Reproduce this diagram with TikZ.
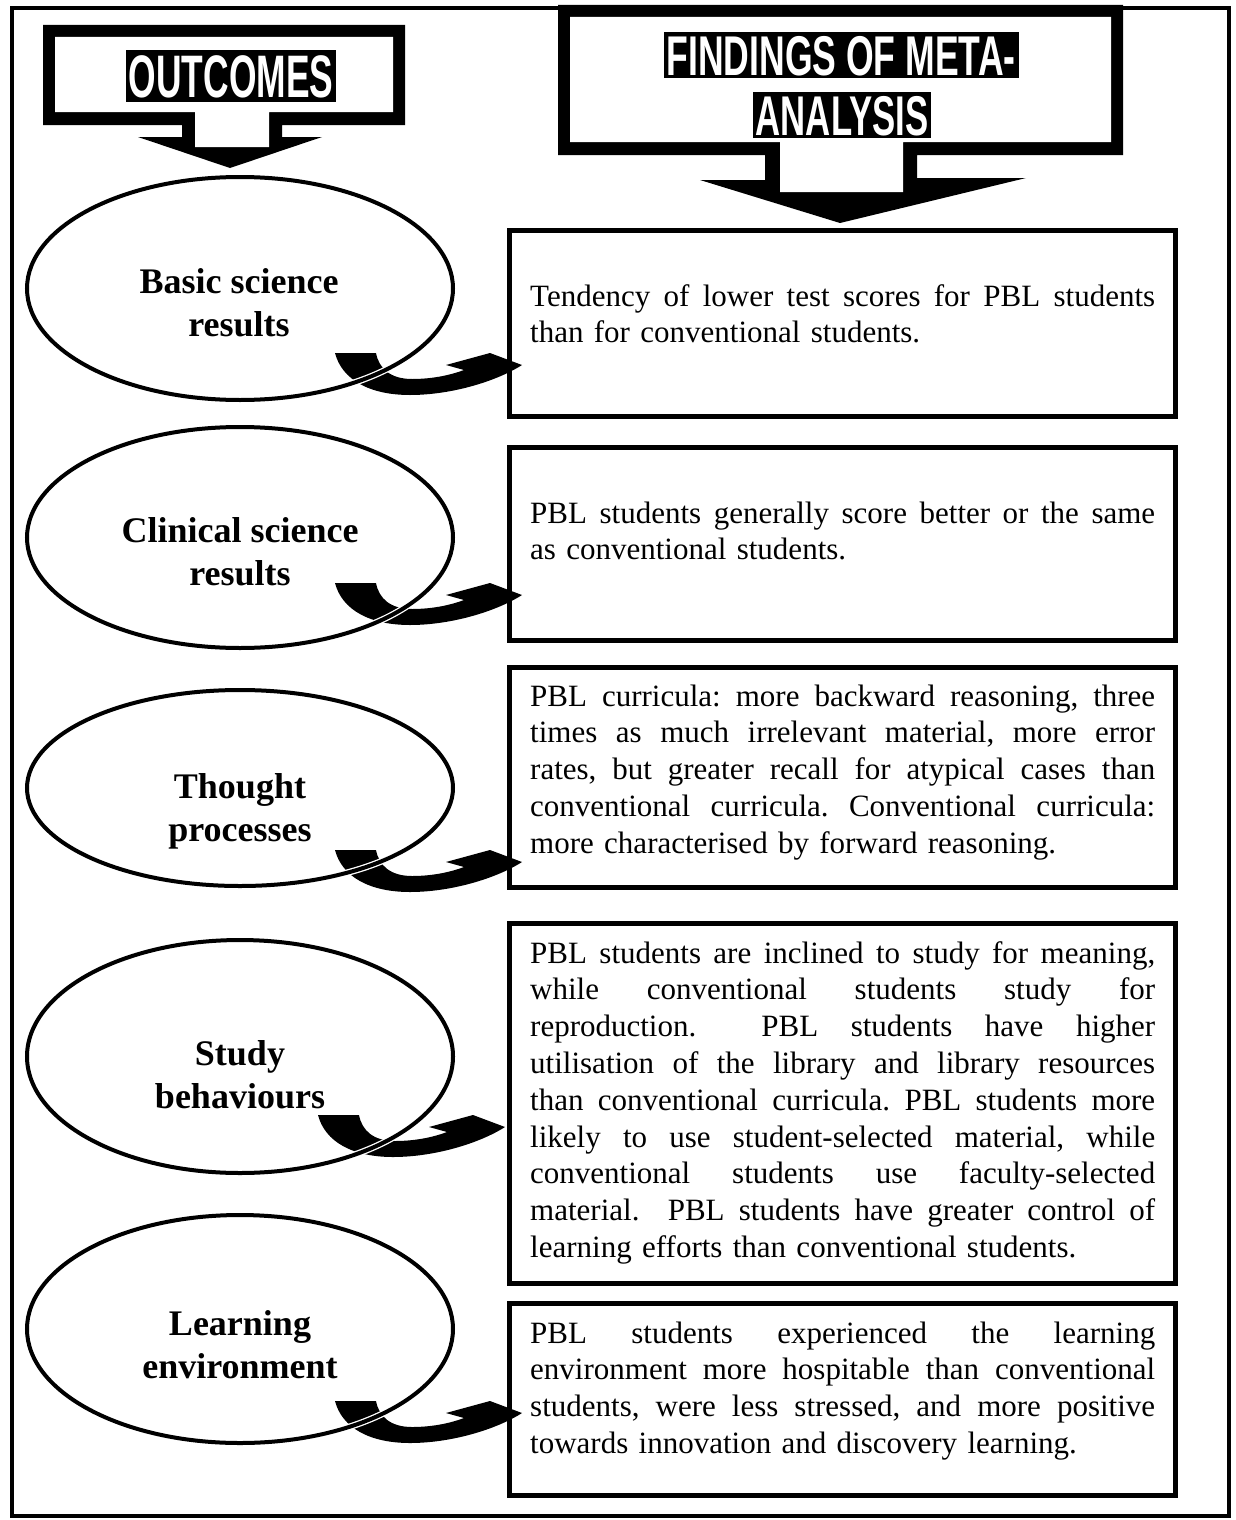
\documentclass[tikz,border=0pt]{standalone}
\usepackage{fontspec}
\usepackage{graphicx}
\setmainfont{Liberation Serif}
\newfontfamily\headfont{Liberation Sans}
\usetikzlibrary{shapes.geometric,calc}
\frenchspacing

% a fully justified line of the findings text: every gap stretches alike
\newcommand{\jl}[1]{\leavevmode\hbox to 625pt{\spaceskip=0.25em plus 1fil\xspaceskip=0.25em plus 1fil\relax #1}}
% condensed heavy lettering for the banners
\newcommand{\cond}[2][0.59]{\scalebox{#1}[1]{#2}}

\tikzset{
  outcome/.style={ellipse, draw=white, double=black, double distance=4pt, line width=1.3pt,
    inner sep=0pt, minimum width=426pt},
  outlabel/.style={font=\fontsize{36}{43}\selectfont\bfseries, align=center, inner sep=0pt, anchor=base},
  findbox/.style={rectangle, draw=black, line width=5pt, inner sep=0pt, minimum width=666pt},
  findtext/.style={font=\fontsize{31}{36.8}\selectfont, text width=625pt, align=left, inner sep=0pt, anchor=base west},
  banner/.style={fill=black, text=white, inner xsep=3pt, inner ysep=4.5pt,
    font=\headfont\fontsize{60}{60}\selectfont\bfseries, text height=43pt, text depth=0pt},
  smallbanner/.style={banner, inner ysep=3pt,
    font=\headfont\fontsize{56}{56}\selectfont\bfseries, text height=40pt},
  swoosh/.pic={
    \fill[black] (-187,-12) -- (-146,-12)
      .. controls (-143,4) and (-131,14) .. (-110,14)
      .. controls (-92,14) and (-74,11) .. (-58,5)
      -- (-76,0) -- (-32,-12) -- (0,0)
      .. controls (-25,16) and (-70,30) .. (-112,30)
      .. controls (-152,30) and (-180,15) .. (-187,-12) -- cycle;
  }
}

\begin{document}
\begin{tikzpicture}[x=1pt,y=-1pt]
\useasboundingbox (0,0) rectangle (1235,1520);
\fill[white] (0,0) rectangle (1235,1520);

% outer frame
\draw[line width=4pt] (12,8) rectangle (1229,1516);

% left banner: down-arrow callout
\fill[black] (43,25) -- (405,25) -- (405,125) -- (282,125) -- (282,137) -- (322,137)
  -- (230,168) -- (138,137) -- (182,137) -- (182,125) -- (43,125) -- cycle;
\fill[white] (55,37) -- (393,37) -- (393,112) -- (269,112) -- (269,147) -- (195,147)
  -- (195,112) -- (55,112) -- cycle;
\node[banner] (h1) at (231,76) {\cond{OUTCOMES}};

% right banner: down-arrow callout
\fill[black] (558,5) -- (1123,5) -- (1123,155) -- (917,155) -- (917,178) -- (1026,178)
  -- (840,223) -- (700,180) -- (765,180) -- (765,155) -- (558,155) -- cycle;
\fill[white] (570,17) -- (1111,17) -- (1111,142) -- (903,142) -- (903,192) -- (780,192)
  -- (780,142) -- (570,142) -- cycle;
\node[smallbanner] (h2a) at (841,55) {\cond[0.635]{FINDINGS OF META-}};
\node[smallbanner] (h2b) at (842,115) {\cond[0.62]{ANALYSIS}};

% findings
\node[findbox, minimum height=186pt] (b1) at (842,323) {};
\node[findbox, minimum height=193pt] (b2) at (842,543.5) {};
\node[findbox, minimum height=220pt] (b3) at (842,777) {};
\node[findbox, minimum height=360pt] (b4) at (842,1103) {};
\node[findbox, minimum height=192pt] (b5) at (842,1399) {};

\node[findtext] (t1) at (530,306) {\jl{Tendency of lower test scores for PBL students}\\
  than for conventional students.};
\node[findtext] (t2) at (530,523) {\jl{PBL students generally score better or the same}\\
  as conventional students.};
\node[findtext] (t3) at (530,706) {\jl{PBL curricula: more backward reasoning, three}\\
  \jl{times as much irrelevant material, more error}\\
  \jl{rates, but greater recall for atypical cases than}\\
  \jl{conventional curricula. Conventional curricula:}\\
  more characterised by forward reasoning.};
\node[findtext] (t4) at (530,963) {\jl{PBL students are inclined to study for meaning,}\\
  \jl{while conventional students study for}\\
  \jl{reproduction.\ \ PBL students have higher}\\
  \jl{utilisation of the library and library resources}\\
  \jl{than conventional curricula. PBL students more}\\
  \jl{likely to use student-selected material, while}\\
  \jl{conventional students use faculty-selected}\\
  \jl{material.\ \ PBL students have greater control of}\\
  learning efforts than conventional students.};
\node[findtext] (t5) at (530,1343) {\jl{PBL students experienced the learning}\\
  \jl{environment more hospitable than conventional}\\
  \jl{students, were less stressed, and more positive}\\
  towards innovation and discovery learning.};

% curved arrows from each outcome to its finding
\pic at ($(b1.west)+(15.5,42)$) {swoosh};
\pic at ($(b2.west)+(15.5,51.5)$) {swoosh};
\pic at ($(b3.west)+(15.5,85)$) {swoosh};
\pic at ($(b4.west)+(-1.5,24)$) {swoosh};
\pic at ($(b5.west)+(15.5,14)$) {swoosh};

% outcomes (drawn over the arrow tails)
\node[outcome, minimum height=223pt] (e1) at (240,288.5) {};
\node[outcome, minimum height=221pt] (e2) at (240,537.5) {};
\node[outcome, minimum height=196pt] (e3) at (240,788) {};
\node[outcome, minimum height=233pt] (e4) at (240,1056.5) {};
\node[outcome, minimum height=228pt] (e5) at (240,1329) {};

\node[outlabel] (l1) at (239,336) {Basic science\\results};
\node[outlabel] (l2) at (240,585) {Clinical science\\results};
\node[outlabel] (l3) at (240,841) {Thought\\processes};
\node[outlabel] (l4) at (240,1108) {Study\\behaviours};
\node[outlabel] (l5) at (240,1378) {Learning\\environment};
\end{tikzpicture}
\end{document}
